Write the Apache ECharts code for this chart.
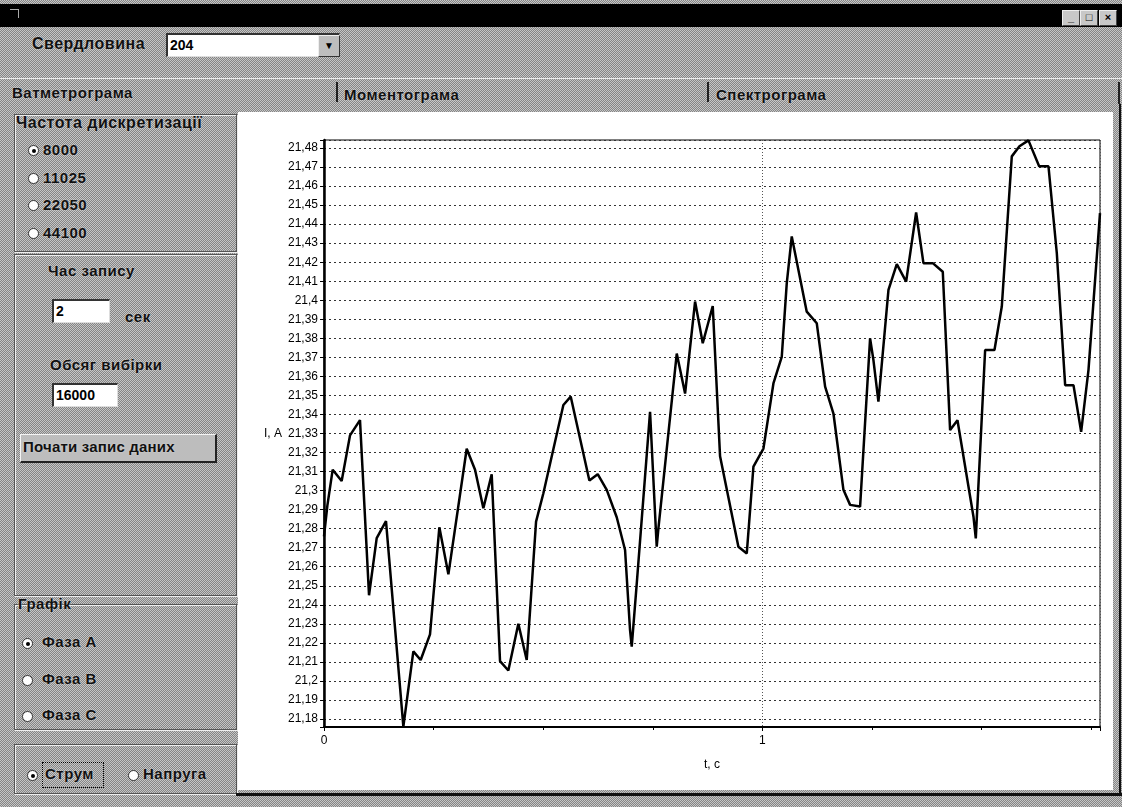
<!DOCTYPE html>
<html>
<head>
<meta charset="utf-8">
<script src="https://cdn.jsdelivr.net/npm/echarts@6/dist/echarts.min.js"></script>
<style>
  html, body { margin:0; padding:0; width:1122px; height:807px; overflow:hidden; }
  body { position:relative; font-family:"Liberation Sans", Arial, sans-serif; }
  .dither { background: repeating-conic-gradient(#858585 0 25%, #c6c6c6 0 50%) 0 0/2px 2px; }
  #win { position:absolute; left:0; top:0; width:1122px; height:807px; }
  .abs { position:absolute; }
  .lbl { position:absolute; font-weight:bold; font-size:15px; color:#111; white-space:nowrap; letter-spacing:0.5px;
         text-shadow: 0 0 2px #ddd; }
  .title { position:absolute; left:0; top:4px; width:1122px; height:23px; background:#000; }
  .btn { position:absolute; top:10px; width:16px; height:14px; background:#c8c8c8; border:1px solid #eee; border-right-color:#444; border-bottom-color:#444; font-size:11px; line-height:13px; text-align:center; font-weight:bold; color:#000; }
  .box { position:absolute; border:1px solid #555; box-shadow: 1px 1px 0 #eee inset, 1px 1px 0 #eee; }
  .input { position:absolute; background:#fff; border-top:2px solid #333; border-left:2px solid #333; border-right:1px solid #ddd; border-bottom:1px solid #ddd; font-weight:bold; font-size:14px; line-height:20px; padding-left:2px; box-sizing:border-box; }
  .radio { position:absolute; width:11px; height:11px; border-radius:50%; background:#fff; border:1px solid #333; box-sizing:border-box; }
  .radio.on::after { content:""; position:absolute; left:3px; top:3px; width:4px; height:4px; border-radius:50%; background:#000; }
  .tabsep { position:absolute; top:82px; width:2px; height:20px; background:#222; }
  #chart { position:absolute; left:238px; top:112px; width:875px; height:678px; background:#fff; }
</style>
</head>
<body>
<div id="win" class="dither"></div>
<div class="title"></div>
<div class="abs" style="left:10px;top:9px;width:8px;height:8px;border-top:1px solid #aaa;border-right:1px solid #aaa;"></div>
<div class="btn" style="left:1062px;">_</div>
<div class="btn" style="left:1080px;">□</div>
<div class="btn" style="left:1099px;">×</div>

<div class="lbl" style="left:32px;top:35px;font-size:16px;">Свердловина</div>
<div class="input" style="left:166px;top:33px;width:174px;height:24px;">204</div>
<div class="abs" style="left:318px;top:35px;width:20px;height:20px;background:#bdbdbd;border:1px solid #eee;border-right-color:#333;border-bottom-color:#333;font-size:10px;text-align:center;line-height:20px;">▼</div>

<div class="abs" style="left:0;top:78px;width:1122px;height:1px;background:#eee;"></div>
<div class="lbl" style="left:12px;top:84px;">Ватметрограма</div>
<div class="tabsep" style="left:336px;"></div>
<div class="lbl" style="left:344px;top:86px;">Моментограма</div>
<div class="tabsep" style="left:707px;"></div>
<div class="lbl" style="left:716px;top:86px;">Спектрограма</div>
<div class="abs" style="left:1118px;top:82px;width:2px;height:22px;background:#222;"></div>

<div class="box" style="left:14px;top:114px;width:221px;height:136px;"></div>
<div class="lbl" style="left:16px;top:114px;font-size:16px;">Частота дискретизації</div>
<div class="radio on" style="left:28px;top:145px;"></div><div class="lbl" style="left:43px;top:141px;">8000</div>
<div class="radio" style="left:28px;top:173px;"></div><div class="lbl" style="left:43px;top:169px;">11025</div>
<div class="radio" style="left:28px;top:200px;"></div><div class="lbl" style="left:43px;top:196px;">22050</div>
<div class="radio" style="left:28px;top:228px;"></div><div class="lbl" style="left:43px;top:224px;">44100</div>

<div class="box" style="left:14px;top:254px;width:221px;height:340px;"></div>
<div class="lbl" style="left:48px;top:262px;">Час запису</div>
<div class="input" style="left:52px;top:299px;width:58px;height:24px;">2</div>
<div class="lbl" style="left:125px;top:308px;">сек</div>
<div class="lbl" style="left:50px;top:356px;">Обсяг вибірки</div>
<div class="input" style="left:52px;top:383px;width:66px;height:24px;">16000</div>
<div class="abs" style="left:20px;top:434px;width:194px;height:26px;background:#bdbdbd;border:1px solid #f4f4f4;border-right:2px solid #222;border-bottom:2px solid #222;"></div>
<div class="lbl" style="left:23px;top:438px;letter-spacing:0.2px;">Почати запис даних</div>

<div class="box" style="left:14px;top:604px;width:221px;height:124px;"></div>
<div class="lbl" style="left:18px;top:595px;">Графік</div>
<div class="radio on" style="left:22px;top:638px;"></div><div class="lbl" style="left:42px;top:633px;">Фаза А</div>
<div class="radio" style="left:22px;top:675px;"></div><div class="lbl" style="left:42px;top:670px;">Фаза В</div>
<div class="radio" style="left:22px;top:711px;"></div><div class="lbl" style="left:42px;top:706px;">Фаза С</div>

<div class="box" style="left:14px;top:744px;width:221px;height:48px;"></div>
<div class="radio on" style="left:27px;top:770px;"></div>
<div class="abs" style="left:42px;top:762px;width:60px;height:24px;border:1px dotted #000;"></div>
<div class="lbl" style="left:45px;top:765px;">Струм</div>
<div class="radio" style="left:128px;top:770px;"></div><div class="lbl" style="left:143px;top:765px;">Напруга</div>

<div class="abs" style="left:236px;top:793px;width:886px;height:3px;background:#111;"></div>
<div class="abs" style="left:1119px;top:104px;width:2px;height:692px;background:#111;"></div>

<div id="chart"></div>

<script>
// time, s
const tValues = [0.000, 0.0076, 0.0198, 0.0403, 0.0593, 0.0821, 0.1027, 0.1202, 0.1414, 0.181,
  0.2038, 0.2205, 0.2418, 0.2631, 0.2837, 0.3255, 0.3445, 0.3635, 0.3825, 0.4015,
  0.4205, 0.4433, 0.4624, 0.4837, 0.5004, 0.546, 0.5627, 0.6053, 0.6243, 0.6449,
  0.6677, 0.6867, 0.6981, 0.7019, 0.7133, 0.7437, 0.7589, 0.7627, 0.8046, 0.8236,
  0.8464, 0.8639, 0.8867, 0.9034, 0.9452, 0.9643, 0.9795, 1.0023, 1.0251, 1.0441,
  1.0555, 1.0669, 1.0745, 1.1011, 1.124, 1.143, 1.162, 1.1848, 1.20, 1.2228,
  1.2456, 1.2532, 1.2646, 1.2875, 1.3065, 1.3278, 1.3506, 1.3673, 1.3886, 1.4114,
  1.4281, 1.4449, 1.4814, 1.4867, 1.508, 1.5293, 1.546, 1.5688, 1.5863, 1.6068,
  1.6312, 1.6525, 1.6715, 1.6905, 1.7095, 1.727, 1.7437, 1.77];
// current, A
const iValues = [21.276, 21.292, 21.311, 21.305, 21.329, 21.337, 21.245, 21.275, 21.284, 21.176,
  21.2155, 21.211, 21.2245, 21.2807, 21.256, 21.322, 21.311, 21.2907, 21.3086, 21.2104,
  21.2055, 21.230, 21.211, 21.2837, 21.2986, 21.345, 21.3494, 21.3053, 21.3086, 21.3004,
  21.286, 21.2688, 21.2267, 21.218, 21.251, 21.3414, 21.2705, 21.280, 21.372, 21.351,
  21.3993, 21.3774, 21.397, 21.318, 21.2705, 21.267, 21.3126, 21.3221, 21.3563, 21.3703,
  21.4089, 21.4335, 21.4247, 21.394, 21.3879, 21.3546, 21.3405, 21.3004, 21.2925, 21.2916,
  21.380, 21.3686, 21.3467, 21.4054, 21.419, 21.4098, 21.4461, 21.4195, 21.4195, 21.415,
  21.3318, 21.337, 21.2863, 21.2749, 21.3739, 21.3739, 21.3967, 21.4756, 21.4809, 21.484,
  21.4704, 21.4704, 21.4247, 21.3554, 21.3554, 21.3309, 21.3633, 21.4458];
const xLabels = ['0', '1'];
const yAxisName = 'I, A';
const xAxisName = 't, c';

const chart = echarts.init(document.getElementById('chart'));
const data = tValues.map((t, i) => [t, iValues[i]]);
const fontFamily = '"Liberation Sans", Arial, sans-serif';

chart.setOption({
  animation: false,
  backgroundColor: '#fff',
  grid: { left: 86, top: 28, right: 13, bottom: 63, show: true, borderColor: '#000', borderWidth: 1 },
  xAxis: {
    type: 'value', min: 0, max: 1.77, interval: 1,
    name: xAxisName, nameLocation: 'middle', nameGap: 32,
    nameTextStyle: { color: '#000', fontSize: 12, fontFamily },
    axisLine: { show: true, lineStyle: { color: '#000', width: 2 } },
    axisTick: { show: true, length: 4, lineStyle: { color: '#000' } },
    minorTick: { show: true, splitNumber: 4, length: 3, lineStyle: { color: '#000' } },
    axisLabel: { color: '#000', fontSize: 12, fontFamily, margin: 8,
      formatter: v => (Math.abs(v) < 1e-9 ? xLabels[0] : (Math.abs(v - 1) < 1e-9 ? xLabels[1] : '')) },
    splitLine: { show: true, lineStyle: { color: '#555', type: [1, 2], width: 1 } }
  },
  yAxis: {
    type: 'value', min: 21.1758, max: 21.4842, minInterval: 0.01, maxInterval: 0.01,
    name: yAxisName, nameLocation: 'middle', nameRotate: 0, nameGap: 42,
    nameTextStyle: { color: '#000', fontSize: 12, fontFamily },
    axisLine: { show: true, lineStyle: { color: '#000', width: 2.5 } },
    axisTick: { show: true, length: 4, lineStyle: { color: '#000' } },
    axisLabel: { color: '#000', fontSize: 12, fontFamily, margin: 6,
      formatter: v => {
        const r = Math.round(v * 100);
        if (Math.abs(v * 100 - r) > 1e-4) return '';
        return String(r / 100).replace('.', ',');
      } },
    splitLine: { show: true, lineStyle: { color: '#333', type: [2, 3], width: 1 } }
  },
  series: [{
    type: 'line', data: data, showSymbol: false, symbol: 'none',
    lineStyle: { color: '#000', width: 2.5 }, clip: true
  }]
});
</script>
</body>
</html>
